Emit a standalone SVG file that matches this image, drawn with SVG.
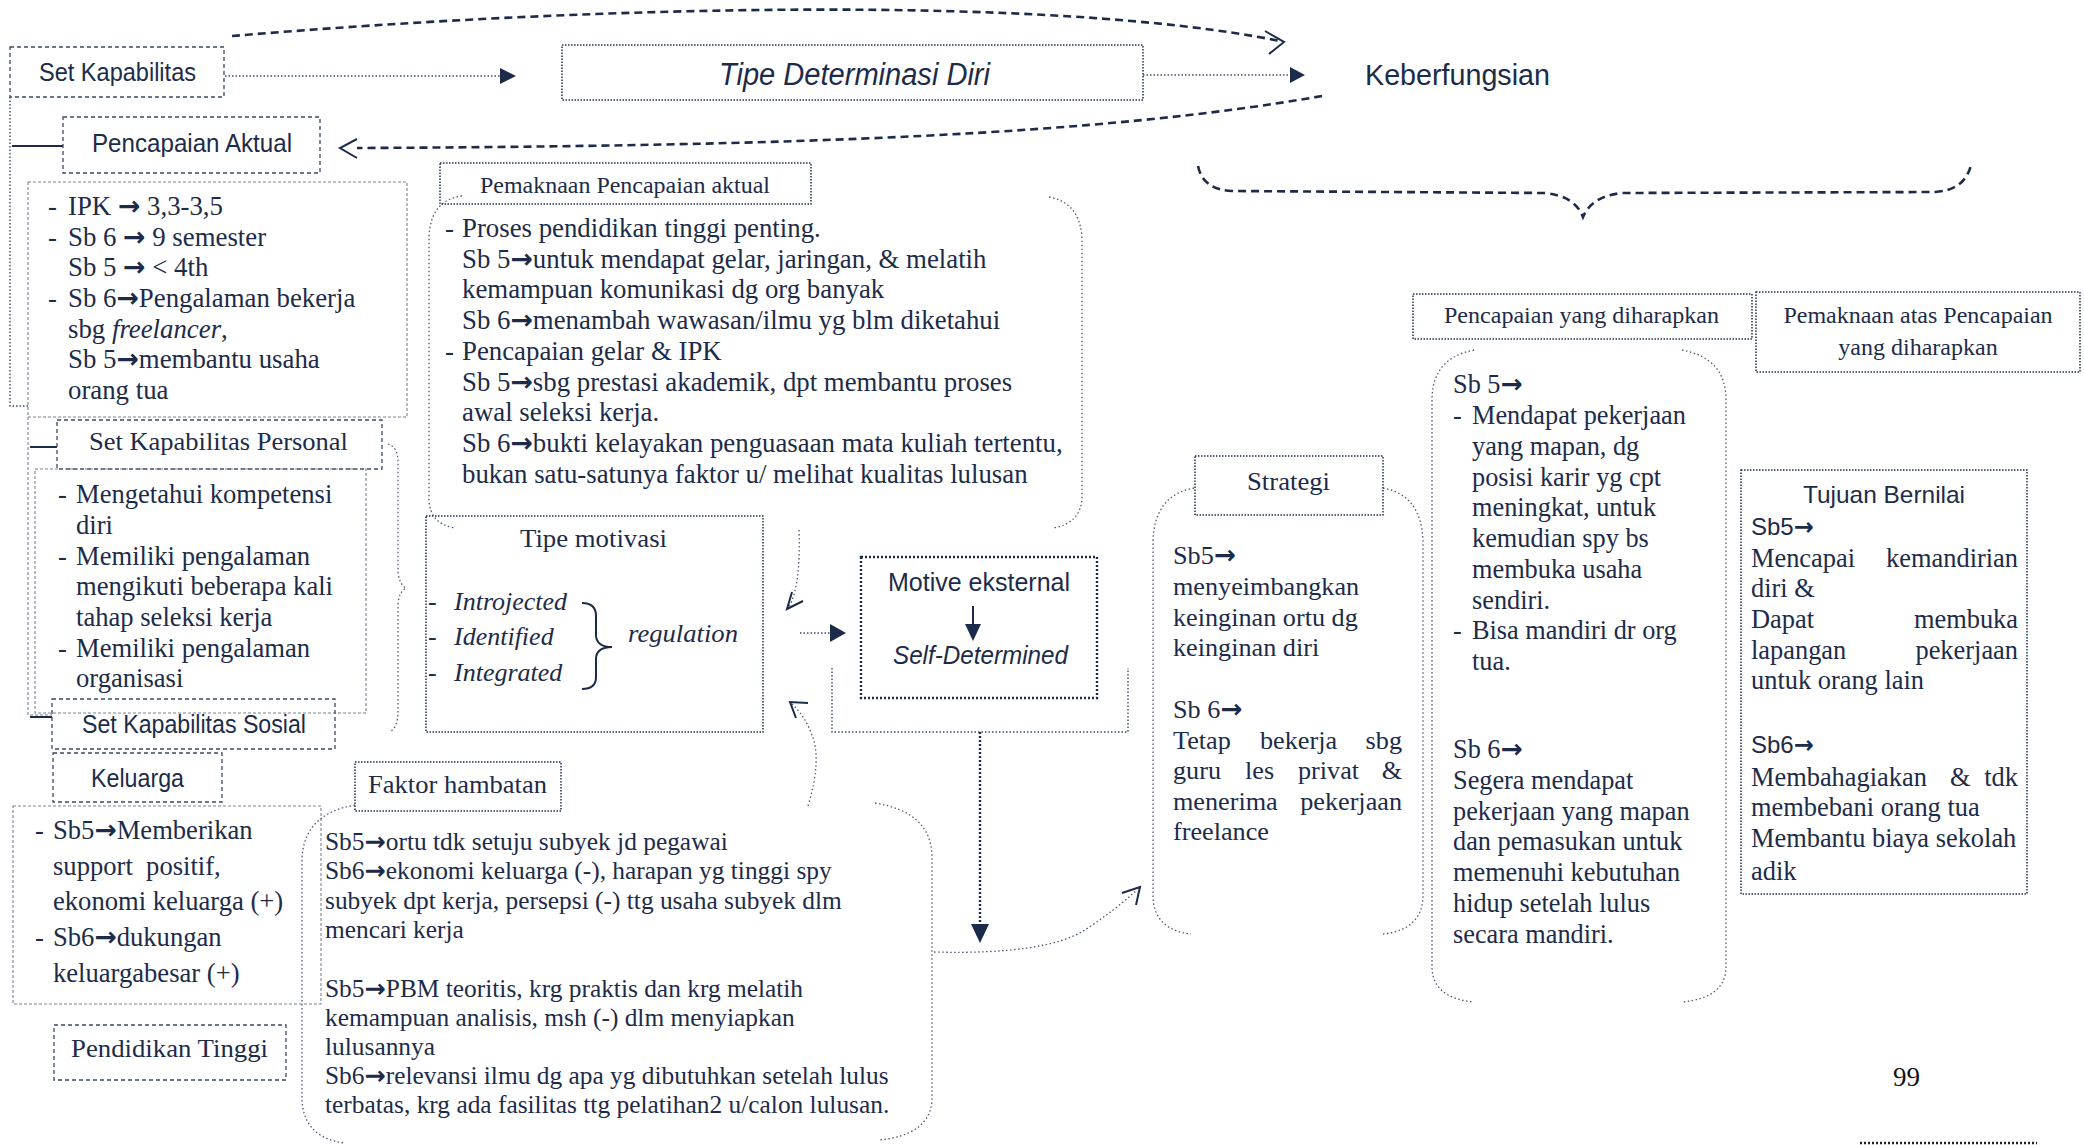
<svg xmlns="http://www.w3.org/2000/svg" width="2084" height="1145" viewBox="0 0 2084 1145">
<style>
.se{font-family:"Liberation Serif","Times New Roman",serif;fill:#1d2b4a}
.sa{font-family:"Liberation Sans",Arial,sans-serif;fill:#1d2b4a}
.it{font-style:italic}
.ar{font-family:"DejaVu Sans",sans-serif;font-weight:bold;font-style:normal}
.bd{fill:none;stroke:#3d4a66;stroke-width:1.3;stroke-dasharray:4 3}
.bf{fill:none;stroke:#7a8294;stroke-width:1.1;stroke-dasharray:3 2}
.bt{fill:none;stroke:#22304f;stroke-width:1.5;stroke-dasharray:1.5 1.5}
.bh{fill:none;stroke:#1d2b4a;stroke-width:2.4;stroke-dasharray:2 2}
.fr{fill:none;stroke:#4f5a72;stroke-width:1.3;stroke-dasharray:1.5 2.5}
.dc{fill:none;stroke:#1d2b4a;stroke-width:2.6;stroke-dasharray:8 5}
.dt{fill:none;stroke:#3d4a66;stroke-width:1.4;stroke-dasharray:1.5 2}
.sl{fill:none;stroke:#1d2b4a;stroke-width:2}
.oa{fill:none;stroke:#1d2b4a;stroke-width:2;stroke-linejoin:miter}
.fa{fill:#1d2b4a}
</style>

<g id="connectors">
  <path class="dc" d="M232,36 C600,5 1050,-5 1280,41"/>
  <path class="oa" d="M1265,31 L1284,42 L1269,54"/>
  <path class="dc" d="M1322,96 C1100,135 800,146 357,148"/>
  <path class="oa" d="M357,139 L340,148 L357,158"/>
  <path class="dt" d="M225,76 L500,76"/>
  <path class="fa" d="M500,68 L516,76 L500,84 Z"/>
  <path class="dt" d="M1143,75 L1290,75"/>
  <path class="fa" d="M1290,67 L1305,75 L1290,83 Z"/>
  <path class="dc" stroke-width="2" d="M1198,166 Q1203,190 1232,191 L1545,193 Q1575,196 1583,217 Q1592,196 1622,193 L1935,192 Q1965,190 1971,165"/>
  <path class="dt" d="M10,97 L10,406 L28,406"/>
  <path class="sl" d="M12,146 L63,146"/>
  <path class="bf" d="M28,417 L28,715 L52,715"/>
  <path class="sl" d="M30,447 L57,447"/>
  <path class="sl" d="M30,717 L52,717"/>
  <path class="fr" d="M388,444 Q398,447 398,462 L398,572 Q399,584 406,588 Q399,592 398,604 L398,712 Q398,726 391,731"/>
  <path class="fr" d="M799,530 Q801,585 789,607"/>
  <path class="oa" stroke-width="1.6" d="M803,601 L787,609 L792,592"/>
  <path class="fr" d="M808,806 Q822,760 812,735 Q805,716 792,704"/>
  <path class="oa" stroke-width="1.6" d="M796,718 L790,702 L808,703"/>
  <path class="dt" d="M800,633 L830,633"/>
  <path class="fa" d="M830,624 L846,633 L830,642 Z"/>
  <path class="dt" stroke="#8a91a0" stroke-width="1.1" d="M832,668 L832,732 L1128,732 L1128,668"/>
  <path class="bh" d="M980,732 L980,925"/>
  <path class="fa" d="M971,924 L989,924 L980,943 Z"/>
  <path class="fr" d="M934,952 Q1045,955 1085,930 Q1115,910 1137,890"/>
  <path class="oa" stroke-width="1.6" d="M1122,893 L1140,887 L1136,905"/>
</g>

<g id="node-set-kapabilitas">
  <rect class="bd" x="10" y="47" width="214" height="50"/>
  <text class="sa" x="39" y="81" font-size="25" textLength="157" lengthAdjust="spacingAndGlyphs">Set Kapabilitas</text>
</g>

<g id="node-tipe-determinasi">
  <rect class="bt" x="562" y="45" width="581" height="55"/>
  <text class="sa it" x="719" y="85" font-size="31" textLength="271" lengthAdjust="spacingAndGlyphs">Tipe Determinasi Diri</text>
</g>

<g id="node-keberfungsian">
  <text class="sa" x="1365" y="85" font-size="30" textLength="185" lengthAdjust="spacingAndGlyphs">Keberfungsian</text>
</g>

<g id="node-pencapaian-aktual">
  <rect class="bd" x="63" y="117" width="257" height="56"/>
  <text class="sa" x="92" y="152" font-size="26" textLength="200" lengthAdjust="spacingAndGlyphs">Pencapaian Aktual</text>
</g>

<g id="node-ipk" font-size="26.8">
  <rect class="bf" x="28" y="182" width="379" height="235"/>
  <text class="se" x="48" y="215">-</text><text class="se" x="68" y="215">IPK <tspan class="ar">→</tspan> 3,3-3,5</text>
  <text class="se" x="48" y="246">-</text><text class="se" x="68" y="246">Sb 6 <tspan class="ar">→</tspan> 9 semester</text>
  <text class="se" x="68" y="276">Sb 5 <tspan class="ar">→</tspan> &lt; 4th</text>
  <text class="se" x="48" y="307">-</text><text class="se" x="68" y="307">Sb 6<tspan class="ar">→</tspan>Pengalaman bekerja</text>
  <text class="se" x="68" y="338">sbg <tspan font-style="italic">freelancer</tspan>,</text>
  <text class="se" x="68" y="368">Sb 5<tspan class="ar">→</tspan>membantu usaha</text>
  <text class="se" x="68" y="399">orang tua</text>
</g>

<g id="node-set-kapabilitas-personal">
  <rect class="bd" x="57" y="420" width="325" height="49"/>
  <text class="se" x="89" y="450" font-size="26" textLength="259" lengthAdjust="spacingAndGlyphs">Set Kapabilitas Personal</text>
</g>

<g id="node-personal" font-size="26.6">
  <rect class="bf" x="35" y="469" width="331" height="244"/>
  <text class="se" x="58" y="503">-</text><text class="se" x="76" y="503">Mengetahui kompetensi</text>
  <text class="se" x="76" y="534">diri</text>
  <text class="se" x="58" y="565">-</text><text class="se" x="76" y="565">Memiliki pengalaman</text>
  <text class="se" x="76" y="595">mengikuti beberapa kali</text>
  <text class="se" x="76" y="626">tahap seleksi kerja</text>
  <text class="se" x="58" y="657">-</text><text class="se" x="76" y="657">Memiliki pengalaman</text>
  <text class="se" x="76" y="687">organisasi</text>
</g>

<g id="node-set-kapabilitas-sosial">
  <rect class="bd" x="52" y="699" width="283" height="50"/>
  <text class="sa" x="82" y="733" font-size="25" textLength="224" lengthAdjust="spacingAndGlyphs">Set Kapabilitas Sosial</text>
</g>

<g id="node-keluarga">
  <rect class="bd" x="53" y="753" width="169" height="49"/>
  <text class="sa" x="91" y="787" font-size="25" textLength="93" lengthAdjust="spacingAndGlyphs">Keluarga</text>
</g>

<g id="node-keluarga-isi" font-size="26.6">
  <rect class="bf" x="13" y="806" width="308" height="198"/>
  <text class="se" x="35" y="839">-</text><text class="se" x="53" y="839">Sb5<tspan class="ar">→</tspan>Memberikan</text>
  <text class="se" x="53" y="875">support&#160; positif,</text>
  <text class="se" x="53" y="910">ekonomi keluarga (+)</text>
  <text class="se" x="35" y="946">-</text><text class="se" x="53" y="946">Sb6<tspan class="ar">→</tspan>dukungan</text>
  <text class="se" x="53" y="982">keluargabesar (+)</text>
</g>

<g id="node-pendidikan-tinggi">
  <rect class="bd" x="54" y="1025" width="232" height="55"/>
  <text class="se" x="71" y="1057" font-size="26" textLength="197" lengthAdjust="spacingAndGlyphs">Pendidikan Tinggi</text>
</g>

<g id="node-pemaknaan-aktual" font-size="26.8">
  <path class="fr" d="M462,196 Q430,200 429,238 L429,500 Q430,524 455,528"/>
  <path class="fr" d="M1049,197 Q1081,203 1082,240 L1082,498 Q1081,523 1053,528"/>
  <rect class="bt" x="440" y="163" width="371" height="41"/>
  <text class="se" x="480" y="193" font-size="23" textLength="290" lengthAdjust="spacingAndGlyphs">Pemaknaan Pencapaian aktual</text>
  <text class="se" x="445" y="237">-</text><text class="se" x="462" y="237">Proses pendidikan tinggi penting.</text>
  <text class="se" x="462" y="268">Sb 5<tspan class="ar">→</tspan>untuk mendapat gelar, jaringan, &amp; melatih</text>
  <text class="se" x="462" y="298">kemampuan komunikasi dg org banyak</text>
  <text class="se" x="462" y="329">Sb 6<tspan class="ar">→</tspan>menambah wawasan/ilmu yg blm diketahui</text>
  <text class="se" x="445" y="360">-</text><text class="se" x="462" y="360">Pencapaian gelar &amp; IPK</text>
  <text class="se" x="462" y="391">Sb 5<tspan class="ar">→</tspan>sbg prestasi akademik, dpt membantu proses</text>
  <text class="se" x="462" y="421">awal seleksi kerja.</text>
  <text class="se" x="462" y="452">Sb 6<tspan class="ar">→</tspan>bukti kelayakan penguasaan mata kuliah tertentu,</text>
  <text class="se" x="462" y="483">bukan satu-satunya faktor u/ melihat kualitas lulusan</text>
</g>

<g id="node-tipe-motivasi" font-size="26">
  <rect class="bt" stroke="#4f5a72" x="426" y="516" width="337" height="216"/>
  <text class="se" x="520" y="547" textLength="147" lengthAdjust="spacingAndGlyphs">Tipe motivasi</text>
  <text class="se" x="428" y="610">-</text><text class="se it" x="454" y="610">Introjected</text>
  <text class="se" x="428" y="645">-</text><text class="se it" x="454" y="645">Identified</text>
  <text class="se" x="428" y="681">-</text><text class="se it" x="454" y="681">Integrated</text>
  <path class="sl" d="M582,603 Q596,603 596,616 L596,636 Q597,647 612,647 Q597,647 596,658 L596,677 Q596,689 582,689"/>
  <text class="se it" x="628" y="642" textLength="110" lengthAdjust="spacingAndGlyphs">regulation</text>
</g>

<g id="node-motive">
  <rect class="bh" x="861" y="557" width="236" height="141"/>
  <text class="sa" x="888" y="591" font-size="25" textLength="182" lengthAdjust="spacingAndGlyphs">Motive eksternal</text>
  <path class="sl" d="M973,606 L973,626"/>
  <path class="fa" d="M965,624 L981,624 L973,641 Z"/>
  <text class="sa it" x="893" y="664" font-size="25" textLength="175" lengthAdjust="spacingAndGlyphs">Self-Determined</text>
</g>

<g id="node-faktor" font-size="25.4">
  <path class="fr" d="M355,805 Q303,814 302,860 L302,1100 Q304,1138 345,1143"/>
  <path class="fr" d="M875,803 Q931,812 932,856 L932,1100 Q930,1135 879,1140"/>
  <rect class="bt" x="355" y="762" width="206" height="49"/>
  <text class="se" x="368" y="793" font-size="26" textLength="179" lengthAdjust="spacingAndGlyphs">Faktor hambatan</text>
  <text class="se" x="325" y="850">Sb5<tspan class="ar">→</tspan>ortu tdk setuju subyek jd pegawai</text>
  <text class="se" x="325" y="879">Sb6<tspan class="ar">→</tspan>ekonomi keluarga (-), harapan yg tinggi spy</text>
  <text class="se" x="325" y="909">subyek dpt kerja, persepsi (-) ttg usaha subyek dlm</text>
  <text class="se" x="325" y="938">mencari kerja</text>
  <text class="se" x="325" y="997">Sb5<tspan class="ar">→</tspan>PBM teoritis, krg praktis dan krg melatih</text>
  <text class="se" x="325" y="1026">kemampuan analisis, msh (-) dlm menyiapkan</text>
  <text class="se" x="325" y="1055">lulusannya</text>
  <text class="se" x="325" y="1084">Sb6<tspan class="ar">→</tspan>relevansi ilmu dg apa yg dibutuhkan setelah lulus</text>
  <text class="se" x="325" y="1113">terbatas, krg ada fasilitas ttg pelatihan2 u/calon lulusan.</text>
</g>

<g id="node-strategi" font-size="26.2">
  <path class="fr" d="M1194,488 Q1155,495 1153,540 L1153,898 Q1155,930 1191,934"/>
  <path class="fr" d="M1383,488 Q1421,495 1423,540 L1423,898 Q1421,930 1383,934"/>
  <rect class="bt" x="1195" y="456" width="188" height="59"/>
  <text class="se" x="1247" y="490" textLength="83" lengthAdjust="spacingAndGlyphs">Strategi</text>
  <text class="se" x="1173" y="564">Sb5<tspan class="ar">→</tspan></text>
  <text class="se" x="1173" y="595">menyeimbangkan</text>
  <text class="se" x="1173" y="626">keinginan ortu dg</text>
  <text class="se" x="1173" y="656">keinginan diri</text>
  <text class="se" x="1173" y="718">Sb 6<tspan class="ar">→</tspan></text>
  <text class="se" x="1173" y="749">Tetap</text><text class="se" x="1260" y="749">bekerja</text><text class="se" x="1402" y="749" text-anchor="end">sbg</text>
  <text class="se" x="1173" y="779">guru</text><text class="se" x="1245" y="779">les</text><text class="se" x="1298" y="779">privat</text><text class="se" x="1402" y="779" text-anchor="end">&amp;</text>
  <text class="se" x="1173" y="810">menerima</text><text class="se" x="1402" y="810" text-anchor="end">pekerjaan</text>
  <text class="se" x="1173" y="840">freelance</text>
</g>

<g id="node-pencapaian-diharapkan" font-size="26.3">
  <path class="fr" d="M1474,350 Q1433,358 1432,398 L1432,968 Q1433,998 1474,1002"/>
  <path class="fr" d="M1682,350 Q1725,358 1726,398 L1726,968 Q1725,998 1682,1002"/>
  <rect class="bt" x="1413" y="294" width="339" height="45"/>
  <text class="se" x="1444" y="323" font-size="24" textLength="275" lengthAdjust="spacingAndGlyphs">Pencapaian yang diharapkan</text>
  <text class="se" x="1453" y="393">Sb 5<tspan class="ar">→</tspan></text>
  <text class="se" x="1453" y="424">-</text><text class="se" x="1472" y="424">Mendapat pekerjaan</text>
  <text class="se" x="1472" y="455">yang mapan, dg</text>
  <text class="se" x="1472" y="486">posisi karir yg cpt</text>
  <text class="se" x="1472" y="516">meningkat, untuk</text>
  <text class="se" x="1472" y="547">kemudian spy bs</text>
  <text class="se" x="1472" y="578">membuka usaha</text>
  <text class="se" x="1472" y="609">sendiri.</text>
  <text class="se" x="1453" y="639">-</text><text class="se" x="1472" y="639">Bisa mandiri dr org</text>
  <text class="se" x="1472" y="670">tua.</text>
  <text class="se" x="1453" y="758">Sb 6<tspan class="ar">→</tspan></text>
  <text class="se" x="1453" y="789">Segera mendapat</text>
  <text class="se" x="1453" y="820">pekerjaan yang mapan</text>
  <text class="se" x="1453" y="850">dan pemasukan untuk</text>
  <text class="se" x="1453" y="881">memenuhi kebutuhan</text>
  <text class="se" x="1453" y="912">hidup setelah lulus</text>
  <text class="se" x="1453" y="943">secara mandiri.</text>
</g>

<g id="node-pemaknaan-diharapkan" font-size="24">
  <rect class="bt" x="1756" y="292" width="324" height="80"/>
  <text class="se" x="1918" y="323" text-anchor="middle">Pemaknaan atas Pencapaian</text>
  <text class="se" x="1918" y="355" text-anchor="middle">yang diharapkan</text>
</g>

<g id="node-tujuan-bernilai" font-size="26.4">
  <rect class="bt" x="1741" y="470" width="286" height="424"/>
  <text class="sa" x="1803" y="503" font-size="24" textLength="162" lengthAdjust="spacingAndGlyphs">Tujuan Bernilai</text>
  <text class="sa" x="1751" y="535" font-size="24">Sb5<tspan class="ar">→</tspan></text>
  <text class="se" x="1751" y="567">Mencapai</text><text class="se" x="2018" y="567" text-anchor="end">kemandirian</text>
  <text class="se" x="1751" y="597">diri &amp;</text>
  <text class="se" x="1751" y="628">Dapat</text><text class="se" x="2018" y="628" text-anchor="end">membuka</text>
  <text class="se" x="1751" y="659">lapangan</text><text class="se" x="2018" y="659" text-anchor="end">pekerjaan</text>
  <text class="se" x="1751" y="689">untuk orang lain</text>
  <text class="sa" x="1751" y="753" font-size="24">Sb6<tspan class="ar">→</tspan></text>
  <text class="se" x="1751" y="786">Membahagiakan</text><text class="se" x="1950" y="786">&amp;</text><text class="se" x="2018" y="786" text-anchor="end">tdk</text>
  <text class="se" x="1751" y="816">membebani orang tua</text>
  <text class="se" x="1751" y="847">Membantu biaya sekolah</text>
  <text class="se" x="1751" y="880">adik</text>
</g>

<g id="page-number">
  <text x="1893" y="1086" font-family="Liberation Serif, serif" font-size="27" fill="#111">99</text>
  <path fill="none" stroke="#222" stroke-width="2.5" stroke-dasharray="2 2" d="M1860,1143 L2037,1143"/>
</g>
</svg>
